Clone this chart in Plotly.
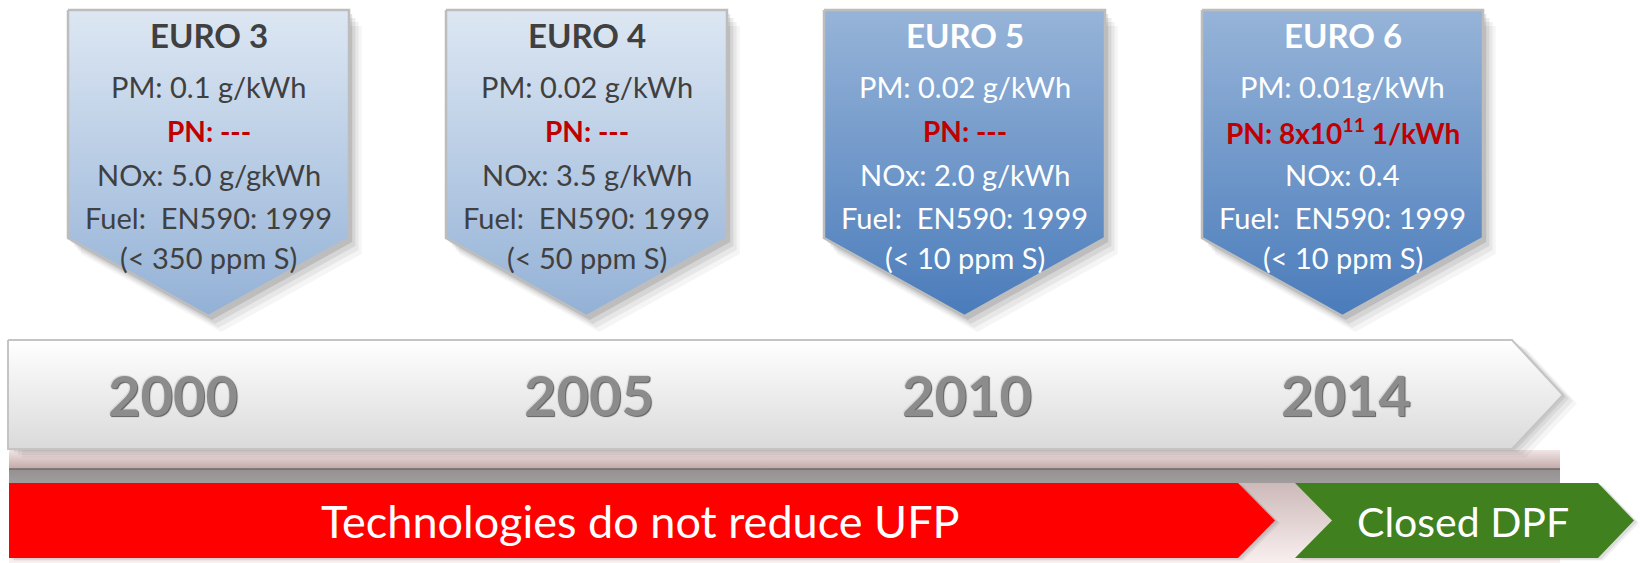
import plotly.graph_objects as go

# ---------------- data ----------------
standards = ["EURO 3", "EURO 4", "EURO 5", "EURO 6"]
years = ["2000", "2005", "2010", "2014"]
pm_limits = ["0.1 g/kWh", "0.02 g/kWh", "0.02 g/kWh", "0.01g/kWh"]
pn_limits = ["---", "---", "---", "8x10<sup>11</sup> 1/kWh"]
nox_limits = ["5.0 g/gkWh", "3.5 g/kWh", "2.0 g/kWh", "0.4"]
fuel_specs = ["EN590: 1999", "EN590: 1999", "EN590: 1999", "EN590: 1999"]
sulfur_limits = ["< 350 ppm S", "< 50 ppm S", "< 10 ppm S", "< 10 ppm S"]
phases = ["Technologies do not reduce UFP", "Closed DPF"]

# ---------------- layout constants ----------------
W, H = 1640, 563
FONT = "Lato, Carlito, Calibri, sans-serif"
box_left = [68, 446, 824, 1202]
box_w = 281
box_top, box_side, box_tip = 10, 238, 316
year_x = [173, 589, 967, 1346]
light_box = [True, True, False, False]

fig = go.Figure()


def poly(xs, ys, fill, line_color=None, line_width=0, grad=None):
    kw = dict(x=list(xs) + [xs[0]], y=list(ys) + [ys[0]], mode="lines",
              fill="toself", hoverinfo="skip", showlegend=False,
              line=dict(color=line_color or "rgba(0,0,0,0)", width=line_width))
    if grad is not None:
        c0, c1, s0, s1 = grad
        kw["fillgradient"] = dict(type="vertical", colorscale=[[0, c0], [1, c1]],
                                  start=s0, stop=s1)
    else:
        kw["fillcolor"] = fill
    fig.add_trace(go.Scatter(**kw))


# background under the timeline: reflection / band / shadow area
poly([9, 1560, 1560, 9], [483, 483, 563, 563], None,
     grad=("#cdb9b9", "#f9efef", 483, 563))
poly([9, 1560, 1560, 9], [450, 450, 469, 469], None,
     grad=("#f2e6e6", "#c2a8a8", 450, 469))
poly([9, 1560, 1560, 9], [469, 469, 483, 483], None,
     grad=("#959191", "#a29d9d", 469, 483))
fig.add_shape(type="line", x0=9, x1=1560, y0=469, y1=469,
              line=dict(color="#6b6b6b", width=1.5))

# timeline arrow shadow
tl_x = [8, 1512, 1563, 1512, 8]
tl_y = [340, 340, 395, 449, 449]
for d, a in [(14, 0.04), (10, 0.05), (6, 0.06), (3, 0.07)]:
    poly([x + d for x in tl_x], [y + d * 0.6 for y in tl_y], f"rgba(0,0,0,{a})")
poly(tl_x, tl_y, None, line_color="#c4c4c4", line_width=2,
     grad=("#ffffff", "#dadada", 340, 449))

# box shadows and boxes
for i in range(4):
    x0 = box_left[i]
    x1 = x0 + box_w
    xc = (x0 + x1) / 2
    bx = [x0, x1, x1, xc, x0]
    by = [box_top, box_top, box_side, box_tip, box_side]
    for d, a in [(16, 0.04), (12, 0.055), (8, 0.075), (4, 0.11)]:
        poly([x + d * 0.8 for x in bx], [y + d for y in by], f"rgba(0,0,0,{a})")
    if light_box[i]:
        grad = ("#dde7f3", "#93b1d6", box_top, box_tip)
    else:
        grad = ("#97b4d8", "#4a7cbb", box_top, box_tip)
    poly(bx, by, None, line_color="#bdbdbd", line_width=2.5, grad=grad)

# phase bars
red_x = [9, 1238, 1275, 1238, 9]
red_y = [483, 483, 520.5, 558, 558]
grn_x = [1295, 1598, 1634, 1598, 1295, 1332]
grn_y = [483, 483, 520.5, 558, 558, 520.5]
for d, a in [(5, 0.06), (3, 0.08)]:
    poly([x + d for x in red_x], [y + d * 0.5 for y in red_y], f"rgba(0,0,0,{a})")
    poly([x + d for x in grn_x], [y + d * 0.5 for y in grn_y], f"rgba(0,0,0,{a})")
poly(red_x, red_y, "#ff0000")
poly(grn_x, grn_y, "#40801f")

# ---------------- texts ----------------
ann = []


def txt(x, y, s, size, color, bold=False, shadow=None):
    f = dict(family=FONT, size=size, color=color, weight=700 if bold else 400)
    if shadow:
        f["shadow"] = shadow
    ann.append(dict(x=x, y=y, xref="x", yref="y", text=s, showarrow=False,
                    xanchor="center", yanchor="middle", font=f))


line_y = [35, 86, 131, 174, 217, 257]
for i in range(4):
    xc = box_left[i] + box_w / 2
    col = "#404040" if light_box[i] else "#ffffff"
    txt(xc, line_y[0], standards[i], 33, col, bold=True)
    txt(xc, line_y[1], "PM: " + pm_limits[i], 29, col)
    txt(xc, line_y[2], "PN: " + pn_limits[i], 28, "#c00000", bold=True)
    txt(xc, line_y[3], "NOx: " + nox_limits[i], 29, col)
    txt(xc, line_y[4], "Fuel:\u00a0 " + fuel_specs[i], 29, col)
    txt(xc, line_y[5], "(" + sulfur_limits[i] + ")", 29, col)

for i in range(4):
    txt(year_x[i], 394, years[i], 56, "#8c8c8c", bold=True,
        shadow="1px 1px 1px #5e5e5e, -1px -1px 1px #d8d8d8")

txt(640, 521, phases[0], 45, "#ffffff")
txt(1463, 521, phases[1], 41, "#ffffff")

fig.update_layout(
    width=W, height=H, margin=dict(l=0, r=0, t=0, b=0),
    paper_bgcolor="#ffffff", plot_bgcolor="#ffffff",
    xaxis=dict(range=[0, W], visible=False, fixedrange=True),
    yaxis=dict(range=[H, 0], visible=False, fixedrange=True),
    annotations=ann, showlegend=False,
)

fig.write_html("out.html", config={"displayModeBar": False},
               post_script="document.body.style.margin='0';document.body.style.overflow='hidden';")
